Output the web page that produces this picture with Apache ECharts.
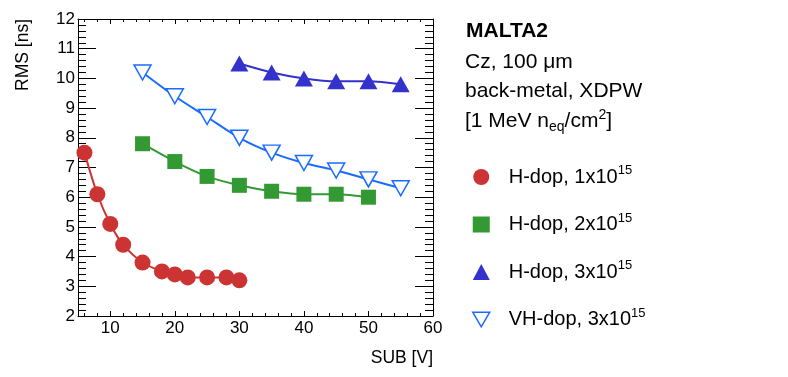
<!DOCTYPE html>
<html>
<head>
<meta charset="utf-8">
<script src="https://cdn.jsdelivr.net/npm/echarts@6/dist/echarts.min.js"></script>
<style>
  html, body { margin: 0; padding: 0; background: #fff; }
  #chart { width: 788px; height: 377px; }
</style>
</head>
<body>
<div id="chart"></div>
<script>
// values
const subRed = [6, 8, 10, 12, 15, 18, 20, 22, 25, 28, 30];
const rmsRed = [7.5, 6.1, 5.1, 4.4, 3.8, 3.5, 3.4, 3.3, 3.3, 3.3, 3.2];
const subGreen = [15, 20, 25, 30, 35, 40, 45, 50];
const rmsGreen = [7.8, 7.2, 6.7, 6.4, 6.2, 6.1, 6.1, 6.0];
const subBlue = [30, 35, 40, 45, 50, 55];
const rmsBlue = [10.5, 10.2, 10.0, 9.9, 9.9, 9.8];
const subVH = [15, 20, 25, 30, 35, 40, 45, 50, 55];
const rmsVH = [10.2, 9.4, 8.7, 8.0, 7.5, 7.15, 6.9, 6.6, 6.3];

const seriesNames = ['H-dop 1', 'H-dop 2', 'H-dop 3', 'VH-dop 3'];
const legendLabels = ['H-dop, 1x10{s|15}', 'H-dop, 2x10{s|15}', 'H-dop, 3x10{s|15}', 'VH-dop, 3x10{s|15}'];

const FONT = 'Liberation Sans, Arial, Helvetica, sans-serif';
const downTri = 'path://M0,0 L20,0 L10,17.32 Z';

function pairs(xs, ys) {
  return xs.map((x, i) => [x, ys[i]]);
}

const chart = echarts.init(document.getElementById('chart'));

// plot box: 78..433 x 19..316
const boxL = 78, boxW = 355, boxT = 19, boxH = 297;
const pxPerUnit = boxW / 55;

const option = {
  animation: false,
  backgroundColor: '#fff',
  textStyle: { fontFamily: FONT },
  grid: [
    { left: boxL, top: boxT, width: boxW, height: boxH },
    // second grid only for the x minor ticks (every 2 V starting at 6)
    { left: boxL + pxPerUnit, top: boxT, width: boxW - pxPerUnit, height: boxH }
  ],
  xAxis: [
    {
      type: 'value', gridIndex: 0, position: 'bottom', min: 5, max: 60,
      axisLine: { show: true, lineStyle: { color: '#000', width: 1 } },
      axisTick: { show: true, inside: true, length: 5, lineStyle: { color: '#000' } },
      axisLabel: {
        color: '#000', fontSize: 17, fontFamily: FONT, margin: 4,
        formatter: v => (v % 10 === 0 ? String(v) : '')
      },
      splitLine: { show: false }
    },
    {
      type: 'value', gridIndex: 0, position: 'top', min: 5, max: 60,
      axisLine: { show: true, lineStyle: { color: '#000', width: 1 } },
      axisTick: { show: true, inside: true, length: 5, lineStyle: { color: '#000' } },
      axisLabel: { show: false },
      splitLine: { show: false }
    },
    {
      type: 'value', gridIndex: 1, position: 'bottom', min: 6, max: 60, interval: 2,
      axisLine: { show: false },
      axisTick: { show: true, inside: true, length: 3, lineStyle: { color: '#000' } },
      axisLabel: { show: false },
      splitLine: { show: false }
    },
    {
      type: 'value', gridIndex: 1, position: 'top', min: 6, max: 60, interval: 2,
      axisLine: { show: false },
      axisTick: { show: true, inside: true, length: 3, lineStyle: { color: '#000' } },
      axisLabel: { show: false },
      splitLine: { show: false }
    }
  ],
  yAxis: [
    {
      type: 'value', gridIndex: 0, position: 'left', min: 2, max: 12, interval: 1,
      axisLine: { show: true, lineStyle: { color: '#000', width: 1 } },
      axisTick: { show: true, inside: true, length: 18, lineStyle: { color: '#000' } },
      minorTick: { show: true, splitNumber: 5, length: 8, lineStyle: { color: '#000' } },
      axisLabel: { color: '#000', fontSize: 17, fontFamily: FONT, margin: 3 },
      splitLine: { show: false }
    },
    {
      type: 'value', gridIndex: 0, position: 'right', min: 2, max: 12, interval: 1,
      axisLine: { show: true, lineStyle: { color: '#000', width: 1 } },
      axisTick: { show: true, inside: true, length: 18, lineStyle: { color: '#000' } },
      minorTick: { show: true, splitNumber: 5, length: 8, lineStyle: { color: '#000' } },
      axisLabel: { show: false },
      splitLine: { show: false }
    },
    {
      type: 'value', gridIndex: 1, min: 2, max: 12, show: false
    }
  ],
  legend: {
    orient: 'vertical',
    left: 467,
    top: 159,
    itemWidth: 17,
    itemHeight: 16,
    itemGap: 21.5,
    selectedMode: false,
    data: [
      { name: seriesNames[0], icon: 'circle', itemStyle: { color: '#cc3333', borderWidth: 0 } },
      { name: seriesNames[1], icon: 'rect', itemStyle: { color: '#339933', borderWidth: 0 } },
      { name: seriesNames[2], icon: 'triangle', itemStyle: { color: '#3333cc', borderWidth: 0 } },
      { name: seriesNames[3], icon: downTri, itemStyle: { color: '#fff', borderColor: '#1a6cff', borderWidth: 1.5 } }
    ],
    formatter: name => legendLabels[seriesNames.indexOf(name)],
    textStyle: {
      color: '#000', fontSize: 20, fontFamily: FONT, lineHeight: 26,
      padding: [0, 0, 0, 14],
      rich: {
        s: { fontSize: 13, lineHeight: 12, verticalAlign: 'top', fontFamily: FONT, color: '#000' }
      }
    }
  },
  graphic: [
    {
      type: 'text', x: 23, y: 19, rotation: Math.PI / 2,
      style: { text: 'RMS [ns]', font: '17.5px ' + FONT, fill: '#000', align: 'right', verticalAlign: 'middle' }
    },
    {
      type: 'text', x: 433, y: 358,
      style: { text: 'SUB [V]', font: '17.5px ' + FONT, fill: '#000', align: 'right', verticalAlign: 'middle' }
    },
    {
      type: 'text', x: 466, y: 31.5,
      style: { text: 'MALTA2', font: 'bold 21px ' + FONT, fill: '#000', align: 'left', verticalAlign: 'middle' }
    },
    {
      type: 'text', x: 465, y: 62,
      style: { text: 'Cz, 100 \u03bcm', font: '21px ' + FONT, fill: '#000', align: 'left', verticalAlign: 'middle' }
    },
    {
      type: 'text', x: 465, y: 91,
      style: { text: 'back-metal, XDPW', font: '21px ' + FONT, fill: '#000', align: 'left', verticalAlign: 'middle' }
    },
    {
      type: 'text', x: 465, y: 121,
      style: {
        text: '{a|[1 MeV n}{b|eq}{a|/cm}{c|2}{a|]}',
        fill: '#000', align: 'left', verticalAlign: 'middle',
        rich: {
          a: { fontSize: 21, fontFamily: FONT, lineHeight: 26, fill: '#000' },
          b: { fontSize: 14, fontFamily: FONT, lineHeight: 4, verticalAlign: 'bottom', fill: '#000' },
          c: { fontSize: 14, fontFamily: FONT, lineHeight: 12, verticalAlign: 'top', fill: '#000' }
        }
      }
    }
  ],
  series: [
    {
      name: seriesNames[0], type: 'line', xAxisIndex: 0, yAxisIndex: 0,
      data: pairs(subRed, rmsRed), smooth: 0.3,
      symbol: 'circle', symbolSize: 16,
      lineStyle: { color: '#cc3333', width: 2 },
      itemStyle: { color: '#cc3333' }
    },
    {
      name: seriesNames[1], type: 'line', xAxisIndex: 0, yAxisIndex: 0,
      data: pairs(subGreen, rmsGreen), smooth: 0.3,
      symbol: 'rect', symbolSize: 15,
      lineStyle: { color: '#339933', width: 2 },
      itemStyle: { color: '#339933' }
    },
    {
      name: seriesNames[2], type: 'line', xAxisIndex: 0, yAxisIndex: 0,
      data: pairs(subBlue, rmsBlue), smooth: 0.3,
      symbol: 'triangle', symbolSize: [18, 16],
      lineStyle: { color: '#3333cc', width: 2 },
      itemStyle: { color: '#3333cc' }
    },
    {
      name: seriesNames[3], type: 'line', xAxisIndex: 0, yAxisIndex: 0,
      data: pairs(subVH, rmsVH), smooth: 0.3,
      symbol: downTri, symbolSize: [17, 15],
      lineStyle: { color: '#1a6cff', width: 2 },
      itemStyle: { color: '#fff', borderColor: '#1a6cff', borderWidth: 1.5 }
    }
  ]
};

chart.setOption(option);
</script>
</body>
</html>
